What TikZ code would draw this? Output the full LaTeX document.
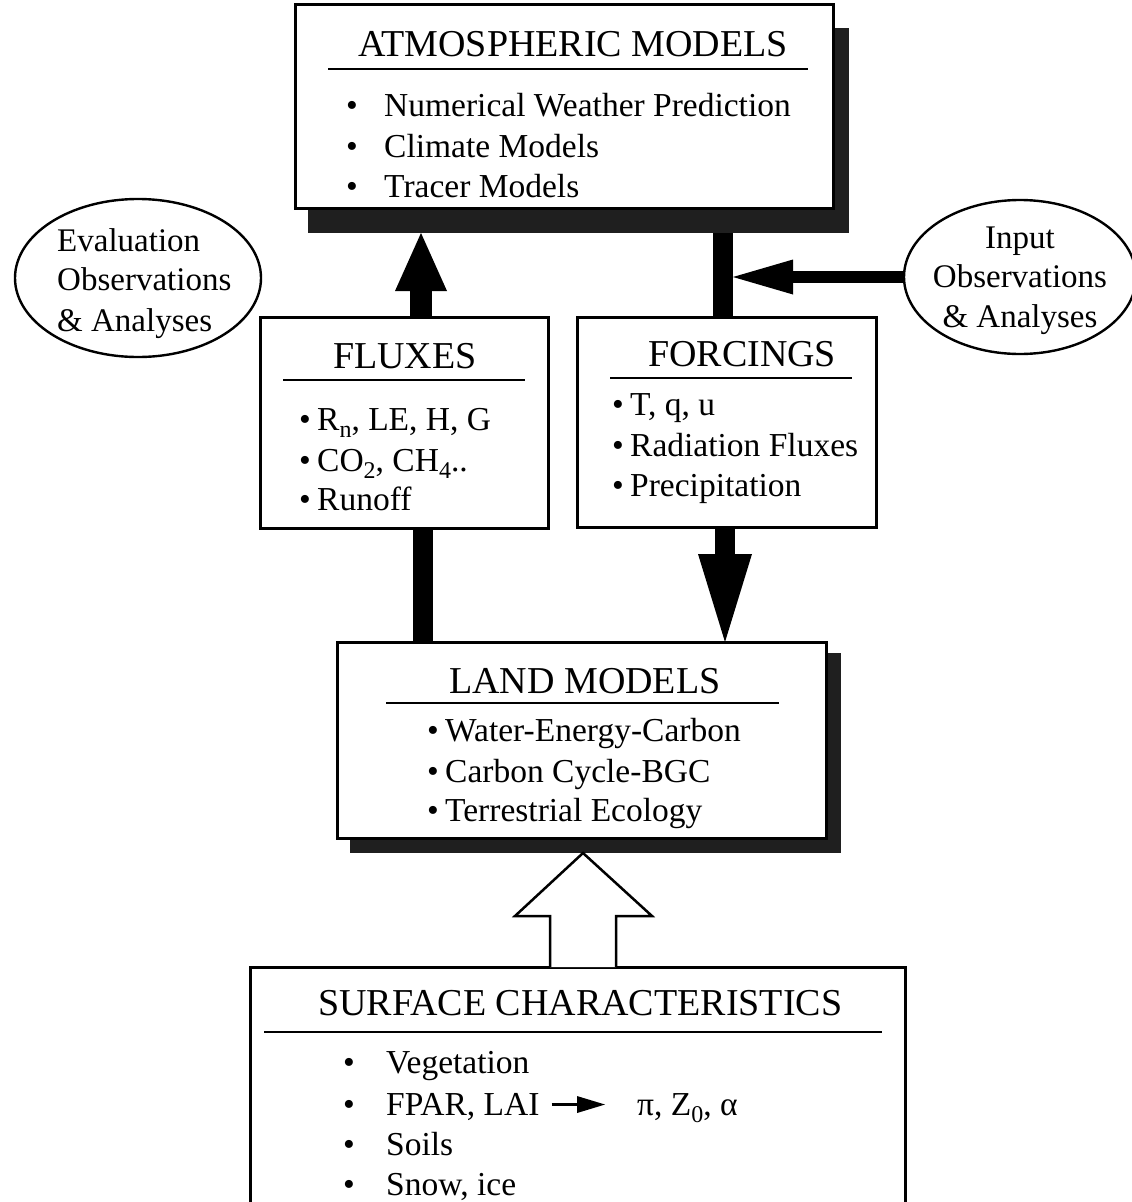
\documentclass[tikz,border=0pt]{standalone}
\usepackage{fontspec}
\setmainfont{Liberation Serif}
\usetikzlibrary{shapes.geometric,arrows.meta,calc}
\newcommand{\lowsub}[1]{\raisebox{-7pt}{\fontsize{24}{24}\selectfont #1}}
\begin{document}
\begin{tikzpicture}[x=1pt,y=-1pt,
  box/.style={draw,line width=3pt,fill=white,inner sep=0pt,outer sep=0pt},
  shadowbox/.style={fill=black!88,draw=none,inner sep=0pt,outer sep=0pt},
  obs/.style={ellipse,draw,line width=2.4pt,fill=white,inner sep=0pt,outer sep=0pt},
  ttl/.style={anchor=base west,inner sep=0pt,font=\fontsize{38}{40}\selectfont},
  itm/.style={anchor=base west,inner sep=0pt,font=\fontsize{33.5}{36}\selectfont},
  obstxt/.style={inner sep=0pt,font=\fontsize{33}{36}\selectfont},
  hrule/.style={line width=2pt},
  bar/.style={line width=20pt},
  hollowarrow/.style={line width=2.5pt,fill=white,line join=miter}
]
\fill[white] (0,0) rectangle (1132,1202);
\useasboundingbox (0,0) rectangle (1132,1202);

% ---------- boxes ----------
\node[shadowbox,minimum width=541pt,minimum height=205pt] (atmsh) at (578.5,130.5) {};
\node[box,minimum width=538pt,minimum height=204pt] (atm) at (564,106) {};
\node[box,minimum width=288pt,minimum height=211pt] (fluxes) at (404,422.5) {};
\node[box,minimum width=299pt,minimum height=210pt] (forcings) at (726.5,422) {};
\node[shadowbox,minimum width=491pt,minimum height=200pt] (landsh) at (595.5,753) {};
\node[box,minimum width=489pt,minimum height=196pt] (land) at (581.5,740) {};
\node[box,minimum width=655pt,minimum height=253pt] (surface) at (577.5,1093.5) {};
\node[obs,minimum width=246pt,minimum height=158pt] (eval) at (138,278) {};
\node[obs,minimum width=232pt,minimum height=154pt] (inp) at (1020,277) {};

% ---------- connectors ----------
% fluxes -> atmospheric models
\draw[line width=22pt,-{Triangle[length=58pt,width=52pt,line width=0pt]}]
  ($(fluxes.north)+(17,0)$) -- ($(fluxes.north |- atmsh.south)+(17,0)$);
% atmospheric models -> forcings
\draw[bar] ($(atmsh.south -| forcings.north)+(-3.5,0)$) -- ($(forcings.north)+(-3.5,0)$);
% input observations -> forcing line
\draw[line width=12pt,-{Triangle[length=60pt,width=35pt,line width=0pt]}]
  (inp.west) -- ($(inp.west -| forcings.north)+(6.5,0)$);
% fluxes -- land models
\draw[bar] ($(fluxes.south)+(19,0)$) -- ($(land.north -| fluxes.south)+(19,0)$);
% forcings -> land models
\draw[bar,-{Triangle[length=88pt,width=54pt,line width=0pt]}]
  ($(forcings.south)+(-1.5,0)$) -- ($(land.north -| forcings.south)+(-1.5,0)$);
% surface characteristics -> land models (hollow arrow)
\coordinate (hb) at ($(surface.north)+(5.5,0)$);
\draw[hollowarrow] ($(hb)+(-33,0)$) -- ++(0,-51) -- ++(-35,0) -- (landsh.south -| hb)
  -- ++(69,63) -- ++(-36,0) -- ++(0,51);

% ---------- atmospheric models ----------
\node[ttl] (atmt) at (358,56) {ATMOSPHERIC MODELS};
\draw[hrule] (328,69) -- (808,69);
\node[itm] (atm1) at (346,116) {\makebox[38pt][l]{\textbullet}Numerical Weather Prediction};
\node[itm] (atm2) at (346,157) {\makebox[38pt][l]{\textbullet}Climate Models};
\node[itm] (atm3) at (346,197) {\makebox[38pt][l]{\textbullet}Tracer Models};

% ---------- ellipses ----------
\node[obstxt,anchor=base west] (ev1) at (57,251) {Evaluation};
\node[obstxt,anchor=base west] (ev2) at (57,290) {Observations};
\node[obstxt,anchor=base west] (ev3) at (57,331) {\& Analyses};
\node[obstxt,anchor=base] (in1) at (1020,248) {Input};
\node[obstxt,anchor=base] (in2) at (1020,287) {Observations};
\node[obstxt,anchor=base] (in3) at (1020,327) {\& Analyses};

% ---------- fluxes ----------
\node[ttl] (flt) at (333,368) {FLUXES};
\draw[hrule] (283,380) -- (525,380);
\node[itm] (fl1) at (299,430) {\makebox[18pt][l]{\textbullet}R\lowsub{n}, LE, H, G};
\node[itm] (fl2) at (299,471) {\makebox[18pt][l]{\textbullet}CO\lowsub{2}, CH\lowsub{4}..};
\node[itm] (fl3) at (299,510) {\makebox[18pt][l]{\textbullet}Runoff};

% ---------- forcings ----------
\node[ttl] (fot) at (648,366) {FORCINGS};
\draw[hrule] (610,378) -- (852,378);
\node[itm] (fo1) at (612,415) {\makebox[18pt][l]{\textbullet}T, q, u};
\node[itm] (fo2) at (612,456) {\makebox[18pt][l]{\textbullet}Radiation Fluxes};
\node[itm] (fo3) at (612,496) {\makebox[18pt][l]{\textbullet}Precipitation};

% ---------- land models ----------
\node[ttl] (lat) at (449,693) {LAND MODELS};
\draw[hrule] (386,703) -- (779,703);
\node[itm] (la1) at (427,741) {\makebox[18pt][l]{\textbullet}Water-Energy-Carbon};
\node[itm] (la2) at (427,782) {\makebox[18pt][l]{\textbullet}Carbon Cycle-BGC};
\node[itm] (la3) at (427,821) {\makebox[18pt][l]{\textbullet}Terrestrial Ecology};

% ---------- surface characteristics ----------
\node[ttl] (sft) at (318,1015) {SURFACE CHARACTERISTICS};
\draw[hrule] (264,1032) -- (882,1032);
\node[itm] (sf1) at (343,1073) {\makebox[43pt][l]{\textbullet}Vegetation};
\node[itm] (sf2) at (343,1115) {\makebox[43pt][l]{\textbullet}FPAR, LAI};
\node[itm] (pi) at (637,1115) {π, Z\lowsub{0}, α};
\node[itm] (sf3) at (343,1155) {\makebox[43pt][l]{\textbullet}Soils};
\node[itm] (sf4) at (343,1195) {\makebox[43pt][l]{\textbullet}Snow, ice};
\draw[line width=2.5pt,-{Triangle[length=28pt,width=17pt,line width=0pt]}]
  ($(sf2.east)+(12,-2)$) -- ($(sf2.east -| pi.west)+(-32,-2)$);
\end{tikzpicture}
\end{document}
